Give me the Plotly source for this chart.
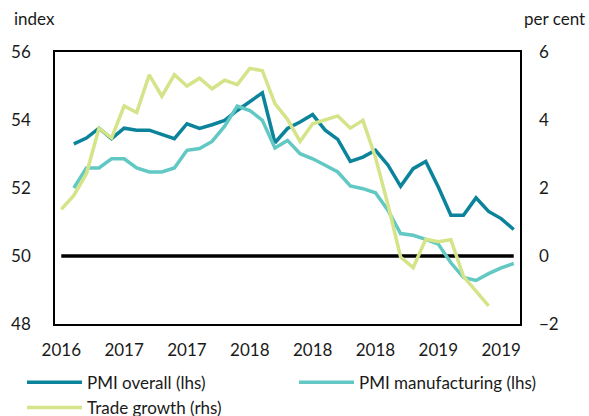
import plotly.graph_objects as go

# ---- data (monthly categories, labels every 5 months) ----
n_cat = 37
tick_pos = [0, 5, 10, 15, 20, 25, 30, 35]
tick_labels = ["2016", "2017", "2017", "2018", "2018", "2018", "2019", "2019"]

# index positions 1..36
pmi_overall = [53.30, 53.47, 53.76, 53.45, 53.76, 53.70, 53.70, 53.57, 53.45,
               53.89, 53.75, 53.86, 53.99, 54.28, 54.55, 54.80, 53.33, 53.75,
               53.94, 54.16, 53.70, 53.43, 52.78, 52.91, 53.11, 52.67, 52.05,
               52.57, 52.78, 52.03, 51.20, 51.20, 51.71, 51.31, 51.10, 50.78]

pmi_manufacturing = [52.00, 52.59, 52.59, 52.86, 52.86, 52.59, 52.47, 52.47, 52.59,
                     53.11, 53.16, 53.37, 53.82, 54.41, 54.28, 53.99, 53.18, 53.40,
                     53.01, 52.86, 52.67, 52.47, 52.06, 51.98, 51.86, 51.34, 50.66,
                     50.61, 50.49, 50.35, 49.80, 49.37, 49.28, 49.48, 49.65, 49.78]

# index positions 0..34
trade_growth = [1.37, 1.78, 2.42, 3.76, 3.47, 4.41, 4.22, 5.33, 4.70, 5.33,
                5.00, 5.23, 4.92, 5.17, 5.04, 5.52, 5.45, 4.48, 4.02, 3.37,
                3.89, 4.01, 4.12, 3.76, 3.99, 2.90, 1.50, -0.03, -0.34, 0.49,
                0.42, 0.48, -0.60, -1.03, -1.47]

baseline = [50] * n_cat

x_all = list(range(n_cat))
x_pmi = x_all[1:1 + len(pmi_overall)]
x_trade = x_all[:len(trade_growth)]

C_OVERALL = "#0B849B"
C_MANUF = "#62C8C3"
C_TRADE = "#D4E489"
FONT = "Lato, 'Open Sans', sans-serif"
FS = 17

fig = go.Figure()
fig.add_trace(go.Scatter(x=x_all, y=baseline, mode="lines",
                         line=dict(color="black", width=3.5),
                         showlegend=False, hoverinfo="skip"))
fig.add_trace(go.Scatter(x=x_pmi, y=pmi_overall, mode="lines", name="PMI overall (lhs)",
                         line=dict(color=C_OVERALL, width=3.5), legend="legend"))
fig.add_trace(go.Scatter(x=x_pmi, y=pmi_manufacturing, mode="lines",
                         name="PMI manufacturing (lhs)",
                         line=dict(color=C_MANUF, width=3.5), legend="legend2"))
fig.add_trace(go.Scatter(x=x_trade, y=trade_growth, mode="lines", name="Trade growth (rhs)",
                         line=dict(color=C_TRADE, width=3.5), yaxis="y2", legend="legend"))

legend_common = dict(orientation="v", yanchor="top", itemwidth=55,
                     font=dict(size=FS), tracegroupgap=0, bgcolor="rgba(0,0,0,0)",
                     xanchor="left")

fig.update_layout(
    width=589, height=416,
    margin=dict(l=55, r=69, t=52, b=92, autoexpand=False),
    paper_bgcolor="white", plot_bgcolor="white",
    font=dict(family=FONT, size=FS, color="#1a1a1a"),
    xaxis=dict(range=[-0.5, n_cat - 0.5], tickvals=tick_pos, ticktext=tick_labels,
               showgrid=False, zeroline=False, showline=True, linecolor="black",
               linewidth=1.5, mirror=True, ticks="", ticklabelstandoff=10),
    yaxis=dict(range=[48, 56], dtick=2, showgrid=False, zeroline=False,
               showline=True, linecolor="black", linewidth=1.5, mirror=True,
               ticks="", ticklabelstandoff=19),
    yaxis2=dict(range=[-2, 6], dtick=2, overlaying="y", side="right",
                showgrid=False, zeroline=False, showline=False, ticks="",
                ticklabelstandoff=18),
    legend=dict(x=-0.071, y=-0.150, **legend_common),
    legend2=dict(x=0.514, y=-0.150, **legend_common),
    annotations=[
        dict(text="index", xref="paper", yref="paper", x=-0.0925, y=1.125,
             xanchor="left", yanchor="middle", showarrow=False, font=dict(size=FS)),
        dict(text="per cent", xref="paper", yref="paper", x=1.145, y=1.125,
             xanchor="right", yanchor="middle", showarrow=False, font=dict(size=FS)),
    ],
)

fig.write_html(
    "out.html",
    config={"displayModeBar": False},
    post_script="document.body.style.margin='0';document.body.style.overflow='hidden';",
)
